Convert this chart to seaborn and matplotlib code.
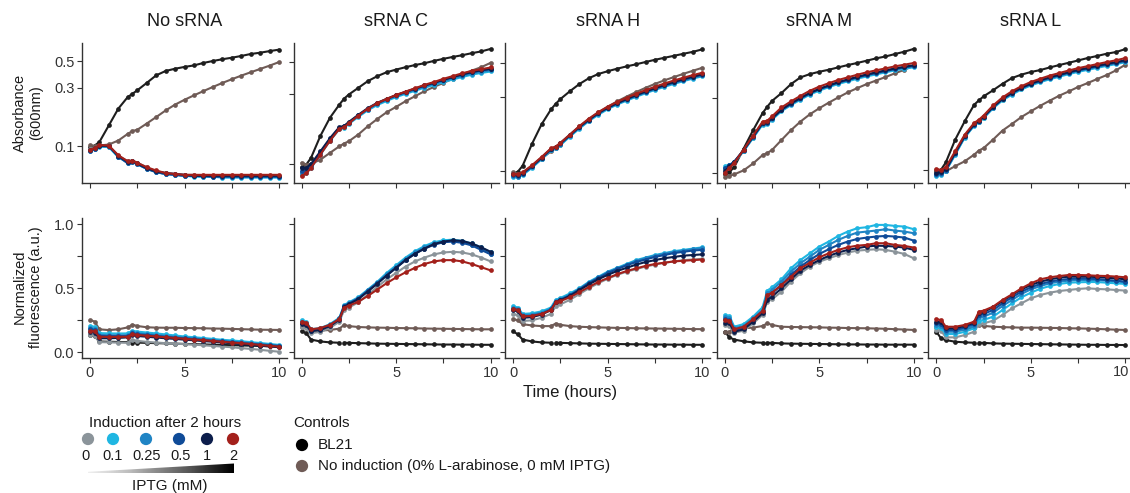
import numpy as np
import pandas as pd
import matplotlib
matplotlib.use("Agg")
import matplotlib.pyplot as plt
from matplotlib.patches import Polygon
from matplotlib.ticker import NullLocator
import seaborn as sns

# ---------------- data ----------------
TIME = [0, 0.25, 0.5, 1, 1.5, 2, 2.25, 2.5, 3, 3.5, 4, 4.5, 5, 5.5, 6, 6.5, 7, 7.5, 8, 8.5, 9, 9.5, 10]

PANELS = ["No sRNA", "sRNA C", "sRNA H", "sRNA M", "sRNA L"]
SERIES = ["BL21", "NoInd", "0", "0.1", "0.25", "0.5", "1", "2"]
IPTG_LEVELS = ["0", "0.1", "0.25", "0.5", "1", "2"]
X_TICKS = [0, 2.5, 5, 7.5, 10]
X_TICK_LABELS = ["0", "", "5", "", "10"]

# Absorbance (600 nm)
OD_NO = {
    "BL21":  [0.098,0.101,0.108,0.148,0.203,0.253,0.269,0.287,0.330,0.381,0.414,0.432,0.447,0.460,0.482,0.500,0.517,0.532,0.550,0.571,0.585,0.603,0.620],
    "NoInd": [0.102,0.100,0.101,0.103,0.111,0.126,0.133,0.136,0.153,0.173,0.196,0.219,0.240,0.261,0.283,0.306,0.330,0.354,0.379,0.404,0.430,0.458,0.490],
    "0":     [0.094,0.097,0.101,0.100,0.083,0.075,0.076,0.073,0.067,0.062,0.060,0.059,0.058,0.058,0.057,0.057,0.057,0.057,0.057,0.056,0.056,0.056,0.056],
    "0.1":   [0.091,0.094,0.099,0.098,0.081,0.073,0.074,0.071,0.065,0.061,0.059,0.058,0.057,0.056,0.056,0.056,0.055,0.055,0.055,0.055,0.055,0.055,0.055],
    "0.25":  [0.092,0.095,0.100,0.099,0.082,0.074,0.075,0.072,0.066,0.061,0.059,0.058,0.057,0.057,0.056,0.056,0.056,0.056,0.056,0.056,0.056,0.056,0.056],
    "0.5":   [0.091,0.095,0.100,0.100,0.082,0.072,0.074,0.071,0.065,0.061,0.059,0.058,0.057,0.057,0.057,0.056,0.056,0.056,0.056,0.056,0.056,0.056,0.056],
    "1":     [0.092,0.096,0.101,0.100,0.083,0.074,0.075,0.072,0.066,0.062,0.060,0.059,0.058,0.057,0.057,0.057,0.057,0.057,0.057,0.057,0.057,0.057,0.057],
    "2":     [0.093,0.096,0.102,0.101,0.084,0.075,0.076,0.073,0.067,0.063,0.060,0.059,0.058,0.058,0.058,0.058,0.058,0.058,0.058,0.058,0.058,0.058,0.058],
}
OD_C = {
    "BL21":  [0.095,0.099,0.110,0.156,0.207,0.255,0.280,0.299,0.332,0.369,0.399,0.425,0.443,0.460,0.476,0.490,0.508,0.525,0.541,0.556,0.574,0.590,0.614],
    "NoInd": [0.102,0.099,0.100,0.107,0.119,0.132,0.138,0.143,0.159,0.181,0.203,0.226,0.246,0.269,0.291,0.315,0.337,0.359,0.384,0.409,0.436,0.460,0.493],
    "0":     [0.088,0.090,0.097,0.119,0.147,0.176,0.180,0.191,0.214,0.238,0.259,0.276,0.293,0.309,0.325,0.342,0.357,0.375,0.391,0.408,0.423,0.438,0.450],
    "0.1":   [0.084,0.087,0.094,0.116,0.144,0.173,0.177,0.188,0.210,0.233,0.253,0.270,0.287,0.302,0.317,0.333,0.347,0.364,0.379,0.394,0.409,0.420,0.430],
    "0.25":  [0.086,0.089,0.096,0.118,0.146,0.175,0.179,0.190,0.213,0.236,0.257,0.274,0.291,0.306,0.322,0.338,0.353,0.370,0.385,0.401,0.416,0.428,0.438],
    "0.5":   [0.089,0.091,0.098,0.120,0.148,0.177,0.181,0.192,0.215,0.239,0.260,0.278,0.295,0.311,0.327,0.344,0.359,0.377,0.393,0.410,0.425,0.437,0.447],
    "1":     [0.094,0.094,0.100,0.122,0.150,0.179,0.182,0.194,0.217,0.241,0.262,0.279,0.296,0.312,0.328,0.345,0.360,0.378,0.394,0.411,0.426,0.439,0.449],
    "2":     [0.083,0.086,0.094,0.116,0.144,0.174,0.178,0.190,0.214,0.239,0.261,0.279,0.297,0.313,0.330,0.348,0.364,0.383,0.400,0.418,0.434,0.446,0.458],
}
OD_H = {
    "BL21":  [0.096,0.099,0.108,0.150,0.200,0.250,0.272,0.292,0.328,0.365,0.398,0.424,0.442,0.459,0.475,0.490,0.507,0.524,0.540,0.556,0.573,0.590,0.612],
    "NoInd": [0.098,0.096,0.097,0.106,0.120,0.134,0.140,0.148,0.168,0.190,0.214,0.238,0.260,0.282,0.303,0.324,0.345,0.366,0.386,0.405,0.425,0.445,0.465],
    "0":     [0.095,0.094,0.097,0.108,0.122,0.139,0.143,0.152,0.172,0.194,0.216,0.239,0.259,0.277,0.295,0.312,0.329,0.346,0.362,0.378,0.394,0.409,0.424],
    "0.1":   [0.092,0.091,0.094,0.105,0.119,0.136,0.140,0.147,0.167,0.188,0.210,0.231,0.251,0.269,0.285,0.302,0.318,0.335,0.350,0.366,0.381,0.396,0.410],
    "0.25":  [0.093,0.092,0.095,0.106,0.120,0.137,0.141,0.149,0.169,0.190,0.212,0.234,0.254,0.272,0.288,0.305,0.322,0.338,0.354,0.370,0.386,0.400,0.415],
    "0.5":   [0.094,0.093,0.096,0.107,0.121,0.138,0.142,0.150,0.170,0.192,0.214,0.236,0.256,0.274,0.291,0.308,0.325,0.342,0.358,0.374,0.390,0.405,0.420],
    "1":     [0.095,0.094,0.097,0.108,0.122,0.139,0.143,0.151,0.171,0.193,0.215,0.237,0.257,0.275,0.292,0.310,0.327,0.344,0.360,0.377,0.393,0.408,0.423],
    "2":     [0.096,0.095,0.098,0.109,0.123,0.140,0.144,0.152,0.172,0.195,0.218,0.240,0.261,0.280,0.298,0.316,0.333,0.351,0.368,0.385,0.401,0.417,0.432],
}
OD_M = {
    "BL21":  [0.098,0.1015,0.109,0.143,0.187,0.240,0.264,0.287,0.322,0.367,0.405,0.425,0.440,0.453,0.469,0.485,0.500,0.517,0.535,0.550,0.570,0.590,0.615],
    "NoInd": [0.094,0.096,0.098,0.104,0.115,0.130,0.134,0.140,0.162,0.187,0.212,0.236,0.258,0.280,0.302,0.325,0.346,0.367,0.387,0.407,0.430,0.453,0.481],
    "0":     [0.104,0.110,0.116,0.138,0.168,0.205,0.207,0.220,0.250,0.273,0.296,0.319,0.339,0.356,0.373,0.388,0.402,0.417,0.429,0.442,0.455,0.466,0.477],
    "0.1":   [0.110,0.113,0.117,0.138,0.167,0.203,0.205,0.218,0.247,0.270,0.292,0.315,0.334,0.351,0.368,0.382,0.397,0.411,0.423,0.436,0.449,0.460,0.470],
    "0.25":  [0.108,0.112,0.118,0.139,0.169,0.206,0.208,0.221,0.251,0.274,0.297,0.320,0.340,0.357,0.374,0.389,0.404,0.418,0.430,0.443,0.456,0.467,0.478],
    "0.5":   [0.107,0.112,0.118,0.140,0.170,0.207,0.209,0.222,0.252,0.275,0.298,0.321,0.341,0.358,0.376,0.390,0.405,0.420,0.432,0.445,0.458,0.469,0.480],
    "1":     [0.103,0.110,0.117,0.140,0.171,0.208,0.210,0.223,0.253,0.277,0.300,0.323,0.343,0.360,0.378,0.393,0.408,0.423,0.436,0.449,0.462,0.473,0.484],
    "2":     [0.100,0.108,0.116,0.141,0.173,0.212,0.215,0.229,0.261,0.285,0.309,0.333,0.354,0.372,0.390,0.405,0.421,0.436,0.449,0.462,0.476,0.488,0.500],
}
OD_L = {
    "BL21":  [0.098,0.1005,0.112,0.158,0.208,0.267,0.285,0.303,0.332,0.366,0.399,0.420,0.437,0.450,0.468,0.485,0.502,0.520,0.539,0.556,0.575,0.590,0.617],
    "NoInd": [0.1005,0.0965,0.098,0.106,0.114,0.126,0.134,0.139,0.158,0.181,0.200,0.222,0.242,0.263,0.284,0.306,0.326,0.349,0.370,0.393,0.417,0.448,0.488],
    "0":     [0.094,0.095,0.099,0.127,0.164,0.196,0.206,0.220,0.256,0.288,0.315,0.340,0.361,0.379,0.397,0.412,0.428,0.443,0.456,0.471,0.485,0.497,0.512],
    "0.1":   [0.092,0.093,0.098,0.126,0.163,0.195,0.205,0.218,0.253,0.285,0.311,0.336,0.357,0.375,0.392,0.407,0.423,0.438,0.451,0.465,0.479,0.492,0.506],
    "0.25":  [0.093,0.094,0.099,0.128,0.165,0.197,0.207,0.221,0.256,0.289,0.316,0.341,0.362,0.380,0.398,0.413,0.430,0.445,0.458,0.472,0.486,0.499,0.513],
    "0.5":   [0.0946,0.0956,0.100,0.129,0.166,0.198,0.208,0.222,0.258,0.291,0.318,0.343,0.365,0.383,0.401,0.416,0.433,0.448,0.461,0.476,0.490,0.503,0.518],
    "1":     [0.096,0.097,0.101,0.130,0.167,0.199,0.209,0.223,0.259,0.292,0.320,0.345,0.367,0.386,0.404,0.419,0.436,0.451,0.465,0.480,0.494,0.507,0.522],
    "2":     [0.1015,0.100,0.104,0.133,0.170,0.203,0.213,0.227,0.264,0.298,0.327,0.353,0.376,0.395,0.414,0.430,0.447,0.463,0.477,0.492,0.507,0.521,0.539],
}

# Normalized fluorescence (a.u.)
FL_NO = {
    "BL21":  [0.135,0.125,0.085,0.083,0.081,0.080,0.077,0.076,0.074,0.072,0.070,0.068,0.066,0.064,0.062,0.060,0.058,0.056,0.054,0.052,0.050,0.048,0.046],
    "NoInd": [0.253,0.240,0.180,0.174,0.180,0.195,0.216,0.206,0.196,0.193,0.192,0.192,0.190,0.189,0.188,0.186,0.185,0.183,0.181,0.179,0.177,0.176,0.175],
    "0":     [0.135,0.130,0.080,0.078,0.076,0.075,0.098,0.090,0.082,0.077,0.072,0.068,0.064,0.060,0.055,0.050,0.045,0.040,0.033,0.027,0.020,0.012,0.005],
    "0.1":   [0.206,0.200,0.150,0.148,0.147,0.148,0.169,0.162,0.155,0.148,0.140,0.132,0.124,0.118,0.112,0.105,0.098,0.093,0.087,0.080,0.073,0.066,0.058],
    "0.25":  [0.188,0.183,0.136,0.134,0.133,0.134,0.156,0.148,0.142,0.135,0.128,0.121,0.115,0.109,0.102,0.096,0.090,0.084,0.078,0.072,0.065,0.058,0.052],
    "0.5":   [0.180,0.175,0.128,0.126,0.126,0.127,0.148,0.141,0.135,0.128,0.121,0.115,0.109,0.103,0.097,0.091,0.085,0.079,0.073,0.067,0.061,0.055,0.049],
    "1":     [0.161,0.155,0.110,0.110,0.113,0.117,0.135,0.128,0.122,0.116,0.110,0.105,0.099,0.094,0.088,0.083,0.077,0.071,0.065,0.059,0.053,0.046,0.040],
    "2":     [0.169,0.163,0.122,0.121,0.121,0.122,0.143,0.136,0.130,0.124,0.118,0.112,0.106,0.100,0.095,0.089,0.083,0.077,0.071,0.065,0.058,0.051,0.045],
}
FL_C = {
    "BL21":  [0.165,0.150,0.100,0.085,0.078,0.075,0.075,0.074,0.072,0.070,0.068,0.067,0.066,0.065,0.064,0.063,0.062,0.061,0.061,0.060,0.060,0.059,0.059],
    "NoInd": [0.200,0.200,0.170,0.170,0.175,0.185,0.215,0.205,0.198,0.195,0.193,0.192,0.190,0.189,0.188,0.186,0.185,0.184,0.183,0.182,0.181,0.180,0.180],
    "0":     [0.200,0.190,0.150,0.160,0.190,0.240,0.330,0.350,0.390,0.450,0.510,0.570,0.620,0.670,0.710,0.740,0.765,0.780,0.785,0.780,0.765,0.740,0.710],
    "0.1":   [0.250,0.240,0.180,0.190,0.220,0.270,0.370,0.390,0.430,0.490,0.550,0.620,0.680,0.740,0.790,0.830,0.860,0.875,0.880,0.870,0.850,0.820,0.780],
    "0.25":  [0.240,0.230,0.175,0.185,0.215,0.265,0.365,0.385,0.425,0.485,0.545,0.610,0.670,0.730,0.780,0.820,0.850,0.865,0.870,0.860,0.840,0.810,0.770],
    "0.5":   [0.230,0.220,0.170,0.180,0.210,0.260,0.360,0.380,0.420,0.480,0.540,0.600,0.660,0.720,0.770,0.810,0.840,0.860,0.865,0.855,0.835,0.800,0.765],
    "1":     [0.220,0.210,0.165,0.175,0.205,0.255,0.355,0.375,0.415,0.475,0.535,0.600,0.660,0.720,0.770,0.810,0.845,0.865,0.875,0.870,0.850,0.820,0.785],
    "2":     [0.240,0.230,0.180,0.190,0.215,0.260,0.350,0.365,0.395,0.440,0.490,0.540,0.585,0.625,0.660,0.690,0.710,0.720,0.720,0.710,0.690,0.665,0.640],
}
FL_H = {
    "BL21":  [0.165,0.140,0.100,0.085,0.078,0.075,0.075,0.074,0.072,0.070,0.068,0.067,0.066,0.065,0.064,0.063,0.062,0.061,0.061,0.060,0.060,0.059,0.059],
    "NoInd": [0.260,0.250,0.220,0.210,0.205,0.205,0.225,0.215,0.205,0.200,0.197,0.195,0.193,0.191,0.190,0.188,0.187,0.186,0.185,0.184,0.183,0.182,0.181],
    "0":     [0.300,0.290,0.245,0.250,0.270,0.300,0.360,0.375,0.410,0.455,0.500,0.540,0.575,0.605,0.630,0.650,0.670,0.685,0.700,0.710,0.720,0.725,0.730],
    "0.1":   [0.360,0.350,0.300,0.305,0.320,0.350,0.410,0.425,0.460,0.500,0.550,0.590,0.630,0.660,0.690,0.720,0.740,0.760,0.775,0.790,0.800,0.810,0.820],
    "0.25":  [0.350,0.340,0.290,0.295,0.310,0.340,0.400,0.415,0.450,0.495,0.545,0.585,0.625,0.655,0.685,0.715,0.735,0.755,0.770,0.785,0.795,0.805,0.815],
    "0.5":   [0.340,0.330,0.280,0.285,0.300,0.335,0.395,0.410,0.445,0.490,0.540,0.580,0.620,0.650,0.680,0.705,0.725,0.745,0.760,0.775,0.785,0.795,0.800],
    "1":     [0.330,0.320,0.270,0.275,0.295,0.330,0.390,0.405,0.440,0.485,0.530,0.570,0.605,0.635,0.660,0.685,0.705,0.720,0.735,0.745,0.755,0.760,0.765],
    "2":     [0.340,0.330,0.280,0.285,0.300,0.330,0.390,0.400,0.430,0.470,0.510,0.550,0.580,0.610,0.635,0.655,0.675,0.690,0.700,0.710,0.715,0.720,0.725],
}
FL_M = {
    "BL21":  [0.161,0.117,0.100,0.086,0.078,0.075,0.075,0.074,0.070,0.068,0.067,0.066,0.065,0.064,0.063,0.062,0.062,0.061,0.061,0.060,0.060,0.060,0.060],
    "NoInd": [0.161,0.161,0.193,0.188,0.193,0.206,0.227,0.214,0.200,0.198,0.197,0.196,0.195,0.193,0.192,0.190,0.189,0.188,0.186,0.184,0.181,0.178,0.175],
    "0":     [0.214,0.208,0.154,0.169,0.227,0.292,0.396,0.414,0.474,0.552,0.617,0.669,0.708,0.734,0.760,0.779,0.794,0.800,0.805,0.800,0.786,0.768,0.734],
    "0.1":   [0.292,0.284,0.200,0.221,0.279,0.352,0.482,0.508,0.570,0.656,0.721,0.773,0.826,0.865,0.909,0.943,0.969,0.977,0.995,0.995,0.987,0.982,0.961],
    "0.25":  [0.273,0.268,0.188,0.206,0.266,0.331,0.461,0.487,0.552,0.630,0.695,0.747,0.800,0.839,0.878,0.909,0.935,0.943,0.951,0.961,0.951,0.943,0.930],
    "0.5":   [0.258,0.252,0.174,0.193,0.253,0.318,0.435,0.461,0.526,0.604,0.669,0.721,0.768,0.805,0.839,0.865,0.885,0.896,0.904,0.909,0.904,0.896,0.872],
    "1":     [0.232,0.226,0.161,0.180,0.240,0.305,0.409,0.435,0.500,0.570,0.638,0.682,0.721,0.753,0.779,0.800,0.813,0.826,0.833,0.831,0.826,0.818,0.800],
    "2":     [0.253,0.247,0.180,0.200,0.258,0.323,0.448,0.466,0.526,0.591,0.656,0.700,0.742,0.773,0.800,0.820,0.833,0.839,0.852,0.852,0.839,0.831,0.818],
}
FL_L = {
    "BL21":  [0.161,0.109,0.096,0.083,0.078,0.075,0.075,0.074,0.070,0.068,0.067,0.066,0.065,0.064,0.063,0.062,0.061,0.060,0.059,0.059,0.058,0.058,0.057],
    "NoInd": [0.200,0.190,0.170,0.170,0.175,0.190,0.214,0.207,0.200,0.197,0.195,0.193,0.193,0.192,0.191,0.190,0.188,0.187,0.185,0.183,0.180,0.177,0.175],
    "0":     [0.174,0.170,0.117,0.117,0.135,0.161,0.221,0.227,0.247,0.292,0.344,0.383,0.422,0.448,0.466,0.479,0.487,0.495,0.500,0.495,0.492,0.487,0.482],
    "0.1":   [0.195,0.190,0.143,0.143,0.161,0.188,0.247,0.253,0.279,0.331,0.383,0.430,0.466,0.497,0.518,0.534,0.544,0.547,0.549,0.549,0.544,0.539,0.534],
    "0.25":  [0.214,0.209,0.161,0.161,0.180,0.206,0.273,0.279,0.310,0.362,0.409,0.456,0.492,0.518,0.539,0.552,0.560,0.565,0.565,0.565,0.560,0.555,0.547],
    "0.5":   [0.227,0.222,0.174,0.174,0.195,0.221,0.292,0.300,0.331,0.383,0.430,0.474,0.508,0.534,0.552,0.565,0.573,0.576,0.576,0.573,0.565,0.560,0.552],
    "1":     [0.240,0.236,0.188,0.188,0.206,0.232,0.305,0.315,0.352,0.401,0.448,0.492,0.526,0.552,0.570,0.583,0.591,0.591,0.591,0.588,0.583,0.578,0.570],
    "2":     [0.258,0.253,0.200,0.200,0.214,0.240,0.318,0.326,0.357,0.409,0.453,0.500,0.539,0.570,0.586,0.596,0.604,0.604,0.602,0.598,0.596,0.592,0.586],
}

OD_DATA = [OD_NO, OD_C, OD_H, OD_M, OD_L]
FL_DATA = [FL_NO, FL_C, FL_H, FL_M, FL_L]

# ---------------- style ----------------
COLORS = {
    "BL21": "#1e1e1e", "NoInd": "#6f5b56",
    "0": "#8b949a", "0.1": "#1fb6e2", "0.25": "#1f84c4",
    "0.5": "#0f4b98", "1": "#0c1d4b", "2": "#a3201b",
}
OD_YLIM = [(0.0497, 0.703), (0.074, 0.674), (0.0836, 0.673), (0.0864, 0.670), (0.0822, 0.676)]
FL_YLIM = (-0.044, 1.049)
XLIM = (-0.42, 10.42)

sns.set_style("ticks")
plt.rcParams["font.family"] = ["Liberation Sans", "DejaVu Sans"]
TXT = "#1a1a1a"
TICK_C = "#333333"
FS = 10.5

W, H = 1130, 493
fig = plt.figure(figsize=(W / 100, H / 100), dpi=100)


def px_axes(left, top, width, height):
    return fig.add_axes([left / W, 1 - (top + height) / H, width / W, height / H])


def long_df(d, gap):
    rows = []
    for s in SERIES:
        for t, v in zip(TIME, d[s]):
            seg = 1 if (gap and s == "BL21" and t > 2.1) else 0
            rows.append((t, v, s, seg))
    return pd.DataFrame(rows, columns=["time", "value", "series", "seg"])


def style_axis(ax):
    sns.despine(ax=ax)
    for sp in ("left", "bottom"):
        ax.spines[sp].set_color(TICK_C)
        ax.spines[sp].set_linewidth(1.0)
    ax.tick_params(axis="both", length=3.5, width=0.8, color=TICK_C,
                   labelcolor=TICK_C, labelsize=FS, pad=2)
    ax.set_xlabel("")
    ax.set_ylabel("")
    ax.set_xlim(*XLIM)


PITCH = 211.6
LINE_KW = dict(hue="series", hue_order=SERIES, palette=COLORS, units="seg", estimator=None,
               marker="o", markersize=3.4, markeredgewidth=0, linewidth=1.5, legend=False)
for i, name in enumerate(PANELS):
    left = 82 + i * PITCH
    last = i == len(PANELS) - 1
    # --- absorbance row ---
    ax = px_axes(left, 43, 205, 140)
    ax.set_yscale("log")
    sns.lineplot(data=long_df(OD_DATA[i], False), x="time", y="value", ax=ax, **LINE_KW)
    style_axis(ax)
    ax.set_ylim(*OD_YLIM[i])
    ax.yaxis.set_minor_locator(NullLocator())
    ax.set_yticks([0.1, 0.3, 0.5], labels=(["0.1", "0.3", "0.5"] if i == 0 else ["", "", ""]))
    ax.set_xticks(X_TICKS, labels=[""] * len(X_TICKS))
    fig.text((left + 102.5) / W, 1 - 22 / H, name, ha="center", va="center",
             fontsize=13, color=TXT)

    # --- fluorescence row ---
    ax2 = px_axes(left, 218, 205, 140)
    sns.lineplot(data=long_df(FL_DATA[i], True), x="time", y="value", ax=ax2, **LINE_KW)
    style_axis(ax2)
    ax2.set_ylim(*FL_YLIM)
    ax2.set_yticks([0, 0.25, 0.5, 0.75, 1.0],
                   labels=(["0.0", "", "0.5", "", "1.0"] if i == 0 else [""] * 5))
    if not last:
        ax2.set_xticks(X_TICKS, labels=X_TICK_LABELS)
    else:
        # rightmost label is right-aligned so it stays inside the canvas
        ax2.set_xticks(X_TICKS, labels=X_TICK_LABELS[:-1] + [""])
        fig.text(1129 / W, 1 - 365.5 / H, X_TICK_LABELS[-1], ha="right", va="top",
                 fontsize=FS, color=TICK_C)

# axis titles
fig.text(28 / W, 1 - 113 / H, "Absorbance\n(600nm)", rotation=90, ha="center",
         va="center", fontsize=FS, color=TXT, multialignment="center", linespacing=1.25)
fig.text(28 / W, 1 - 287 / H, "Normalized\nfluorescence (a.u.)", rotation=90, ha="center",
         va="center", fontsize=FS, color=TXT, multialignment="center", linespacing=1.25)
fig.text(570 / W, 1 - 393 / H, "Time (hours)", ha="center", va="center",
         fontsize=12, color=TXT)

# ---------------- legends (pixel-space overlay) ----------------
lg = fig.add_axes([0, 0, 1, 1], zorder=5)
lg.set_xlim(0, W)
lg.set_ylim(H, 0)
lg.axis("off")
LFS = 11

lg.text(165, 423, "Induction after 2 hours", ha="center", va="center", fontsize=LFS, color=TXT)
dot_x = [88, 113, 146, 179, 207, 233]
lab_x = [86, 113, 147, 181, 207, 233]
for lvl, dx, lx in zip(IPTG_LEVELS, dot_x, lab_x):
    lg.scatter([dx], [439], s=78, color=COLORS[lvl], edgecolor="none")
    lg.text(lx, 456, lvl, ha="center", va="center", fontsize=FS, color=TXT)

# gradient wedge
grad = np.linspace(0, 1, 256).reshape(1, -1)
im = lg.imshow(grad, cmap="Greys", vmin=-0.15, vmax=1.0, aspect="auto",
               extent=[88, 234, 473, 463.5], interpolation="bilinear")
wedge = Polygon([(88, 471.8), (234, 463.5), (234, 473), (88, 473)], closed=True,
                transform=lg.transData, facecolor="none", edgecolor="none")
lg.add_patch(wedge)
im.set_clip_path(wedge)
lg.text(170, 486, "IPTG (mM)", ha="center", va="center", fontsize=LFS, color=TXT)

lg.text(293, 423, "Controls", ha="left", va="center", fontsize=LFS, color=TXT)
lg.scatter([302], [445], s=78, color="#000000", edgecolor="none")
lg.text(318, 445, "BL21", ha="left", va="center", fontsize=LFS, color=TXT)
lg.scatter([302], [466], s=78, color=COLORS["NoInd"], edgecolor="none")
lg.text(318, 466, "No induction (0% L-arabinose, 0 mM IPTG)", ha="left", va="center",
        fontsize=LFS, color=TXT)

fig.savefig("out.png", dpi=100)
